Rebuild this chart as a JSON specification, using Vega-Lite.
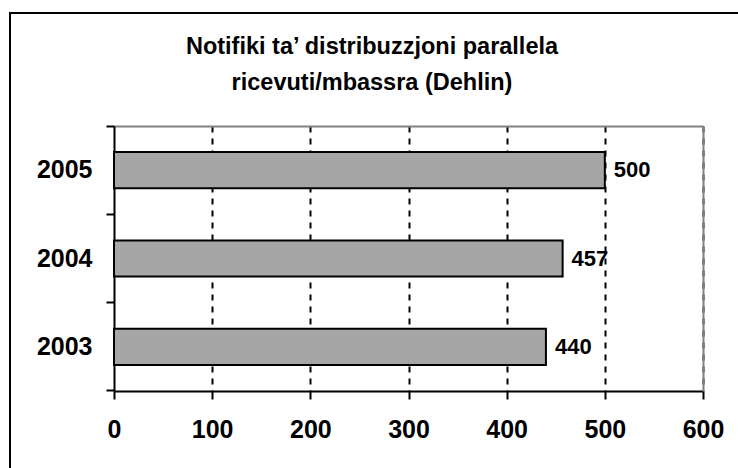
{
  "$schema": "https://vega.github.io/schema/vega-lite/v6.json",
  "width": 740,
  "height": 470,
  "autosize": {"type": "none"},
  "padding": {"left": 10, "top": 13, "right": 0, "bottom": 0},
  "background": "white",
  "title": {
    "text": ["Notifiki ta’ distribuzzjoni parallela", "ricevuti/mbassra (Dehlin)"],
    "font": "Liberation Sans",
    "fontSize": 23.5,
    "fontWeight": "bold",
    "color": "black",
    "anchor": "middle",
    "frame": "group",
    "offset": -93,
    "dx": -8,
    "lineHeight": 36
  },
  "data": {
    "values": [
      {"year": "2005", "n": 500},
      {"year": "2004", "n": 457},
      {"year": "2003", "n": 440}
    ]
  },
  "layer": [
    {
      "mark": {"type": "bar", "height": {"band": 0.41}, "color": "#a6a6a6", "stroke": "black", "strokeWidth": 2},
      "encoding": {
        "x": {
          "field": "n", "type": "quantitative",
          "scale": {"domain": [0, 600], "range": [104, 693], "nice": false, "zero": true},
          "axis": {
            "orient": "top", "offset": -113, "title": null,
            "domain": true, "domainColor": "#808080", "domainWidth": 2,
            "labels": false, "ticks": false,
            "grid": true, "gridColor": "black", "gridDash": [6, 6], "gridWidth": 2,
            "values": [100, 200, 300, 400, 500, 600]
          }
        },
        "y": {
          "field": "year", "type": "nominal", "sort": ["2005", "2004", "2003"],
          "scale": {"range": [113, 378], "paddingInner": 0, "paddingOuter": 0},
          "axis": {
            "orient": "left", "offset": -104, "title": null, "grid": false,
            "domainColor": "black", "domainWidth": 2,
            "tickColor": "black", "tickWidth": 2, "tickSize": 8,
            "bandPosition": 1, "tickExtra": true,
            "labelFont": "Liberation Sans", "labelFontSize": 25, "labelFontWeight": "bold",
            "labelColor": "black", "labelPadding": 14
          }
        }
      }
    },
    {
      "mark": {"type": "text", "align": "left", "baseline": "middle", "dx": 9, "font": "Liberation Sans", "fontSize": 22, "fontWeight": "bold", "color": "black"},
      "encoding": {
        "text": {"field": "n", "type": "quantitative"},
        "x": {
          "field": "n", "type": "quantitative",
          "scale": {"domain": [0, 600], "range": [104, 693], "nice": false, "zero": true},
          "axis": {
            "orient": "bottom", "offset": -92, "title": null, "grid": false,
            "domainColor": "black", "domainWidth": 2,
            "tickColor": "black", "tickWidth": 2, "tickSize": 8,
            "values": [0, 100, 200, 300, 400, 500, 600],
            "labelFont": "Liberation Sans", "labelFontSize": 25, "labelFontWeight": "bold",
            "labelColor": "black", "labelPadding": 18, "labelFlush": false, "labelOverlap": false
          }
        },
        "y": {
          "field": "year", "type": "nominal", "sort": ["2005", "2004", "2003"],
          "scale": {"range": [113, 378], "paddingInner": 0, "paddingOuter": 0},
          "axis": {
            "orient": "right", "offset": -47, "title": null, "grid": false,
            "domainColor": "#808080", "domainWidth": 2,
            "ticks": false, "labels": false
          }
        }
      }
    }
  ],
  "resolve": {"axis": {"x": "independent", "y": "independent"}},
  "config": {
    "view": {"stroke": "black", "strokeWidth": 2}
  }
}
